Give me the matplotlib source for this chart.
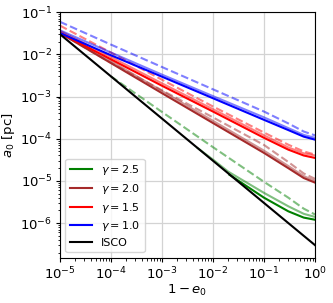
import numpy as np
import matplotlib
matplotlib.use("Agg")
import matplotlib.pyplot as plt

# valeurs (1 - e0 en abscisse, a0 en pc en ordonnee)
x_pts = [1e-5, 1e-4, 1e-3, 1e-2, 1e-1, 0.3, 0.6, 1.0]

# gamma = 1.0
a_g10 = [3.2e-2, 9.5e-3, 2.95e-3, 9.1e-4, 2.8e-4, 1.6e-4, 1.12e-4, 9.5e-5]
a_g10_b = [3.7e-2, 1.1e-2, 3.3e-3, 1.02e-3, 3.2e-4, 1.78e-4, 1.23e-4, 1.05e-4]
a_g10_d = [5.9e-2, 1.7e-2, 5.0e-3, 1.48e-3, 4.4e-4, 2.3e-4, 1.48e-4, 1.2e-4]

# gamma = 1.5
a_g15 = [3.2e-2, 7.6e-3, 1.8e-3, 4.4e-4, 1.05e-4, 5.5e-5, 4.0e-5, 3.5e-5]
a_g15_b = [3.6e-2, 8.6e-3, 2.05e-3, 5.0e-4, 1.2e-4, 6.2e-5, 4.5e-5, 4.0e-5]
a_g15_d = [4.8e-2, 1.1e-2, 2.5e-3, 5.8e-4, 1.4e-4, 7.2e-5, 5.0e-5, 4.2e-5]

# gamma = 2.0
a_g20 = [3.2e-2, 6.2e-3, 1.2e-3, 2.35e-4, 4.6e-5, 2.0e-5, 1.17e-5, 9.1e-6]
a_g20_b = [3.4e-2, 6.9e-3, 1.35e-3, 2.65e-4, 5.2e-5, 2.25e-5, 1.3e-5, 1.0e-5]
a_g20_d = [3.2e-2, 6.3e-3, 1.4e-3, 3.2e-4, 7.1e-5, 2.8e-5, 1.5e-5, 1.12e-5]

# gamma = 2.5 (les courbes commencent sur l'ISCO)
x_g25 = [2.1e-2, 1e-1, 0.3, 0.6, 1.0]
a_g25 = [1.4e-5, 4.0e-6, 1.9e-6, 1.35e-6, 1.2e-6]
x_g25_b = [5e-3, 1e-2, 2e-2, 1e-1, 0.3, 0.6, 1.0]
a_g25_b = [6e-5, 3.2e-5, 1.65e-5, 5.2e-6, 2.5e-6, 1.66e-6, 1.4e-6]
x_g25_d = [1e-4, 1e-3, 1e-2, 1e-1, 0.3, 0.6, 1.0]
a_g25_d = [3.0e-3, 4.3e-4, 6.3e-5, 9.5e-6, 4.0e-6, 2.2e-6, 1.6e-6]

# ISCO
x_isco = [1e-5, 1e-4, 1e-3, 1e-2, 1e-1, 1.0]
a_isco = [3e-2, 3e-3, 3e-4, 3e-5, 3e-6, 3e-7]

plt.rcParams["font.size"] = 9.5
plt.rcParams["axes.linewidth"] = 0.8
plt.rcParams["xtick.major.size"] = 3
plt.rcParams["ytick.major.size"] = 3
plt.rcParams["xtick.minor.size"] = 1.8
plt.rcParams["ytick.minor.size"] = 1.8
plt.rcParams["xtick.major.pad"] = 2.5
plt.rcParams["ytick.major.pad"] = 2.5
plt.rcParams["xtick.minor.width"] = 0.6
plt.rcParams["ytick.minor.width"] = 0.6

fig = plt.figure(figsize=(3.33, 3.03), dpi=100)
ax = fig.add_axes([0.18, 0.149, 0.766, 0.811])

lw = 1.5
# gamma = 2.5
ax.plot(x_g25_d, a_g25_d, "--", color="green", alpha=0.5, lw=lw)
ax.plot(x_g25_b, a_g25_b, "-", color="green", alpha=0.5, lw=lw)
ax.plot(x_g25, a_g25, "-", color="green", lw=lw, label=r"$\gamma = 2.5$")
# gamma = 2.0
ax.plot(x_pts, a_g20_d, "--", color="brown", alpha=0.5, lw=lw)
ax.plot(x_pts, a_g20_b, "-", color="brown", alpha=0.5, lw=lw)
ax.plot(x_pts, a_g20, "-", color="brown", lw=lw, label=r"$\gamma = 2.0$")
# gamma = 1.5
ax.plot(x_pts, a_g15_d, "--", color="red", alpha=0.5, lw=lw)
ax.plot(x_pts, a_g15_b, "-", color="red", alpha=0.5, lw=lw)
ax.plot(x_pts, a_g15, "-", color="red", lw=lw, label=r"$\gamma = 1.5$")
# gamma = 1.0
ax.plot(x_pts, a_g10_d, "--", color="blue", alpha=0.5, lw=lw)
ax.plot(x_pts, a_g10_b, "-", color="blue", alpha=0.5, lw=lw)
ax.plot(x_pts, a_g10, "-", color="blue", lw=lw, label=r"$\gamma = 1.0$")

ax.plot(x_isco, a_isco, "-", color="black", lw=lw, label="ISCO")

ax.set_xscale("log")
ax.set_yscale("log")
ax.set_xlim(1e-5, 1)
ax.set_ylim(1.5e-7, 1e-1)
ax.set_xticks([1e-5, 1e-4, 1e-3, 1e-2, 1e-1, 1])
ax.set_yticks([1e-6, 1e-5, 1e-4, 1e-3, 1e-2, 1e-1])
ax.grid(True, which="major", color="lightgray", lw=0.9)
ax.set_axisbelow(True)

ax.set_xlabel(r"$1 - e_0$", labelpad=0.5)
ax.set_ylabel(r"$a_0$ [pc]", labelpad=2)
ax.legend(loc="lower left", fontsize=8, labelspacing=0.42)

plt.savefig("out.png", dpi=100)
